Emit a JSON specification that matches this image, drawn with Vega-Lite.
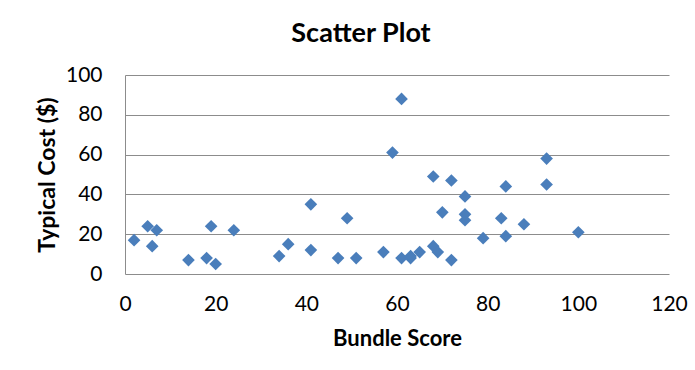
{
  "$schema": "https://vega.github.io/schema/vega-lite/v6.json",
  "width": 544,
  "height": 199,
  "autosize": {"type": "none"},
  "padding": {"left": 125, "top": 75, "right": 26, "bottom": 96},
  "background": "white",
  "config": {"view": {"stroke": null}, "font": "Lato"},
  "title": {
    "text": "Scatter Plot",
    "font": "Lato",
    "fontSize": 27,
    "fontWeight": "bold",
    "color": "#000000",
    "anchor": "middle",
    "dx": -36,
    "offset": 16
  },
  "data": {
    "values": [
      {"score": 2, "cost": 17}, {"score": 5, "cost": 24}, {"score": 6, "cost": 14}, {"score": 7, "cost": 22},
      {"score": 14, "cost": 7}, {"score": 18, "cost": 8}, {"score": 19, "cost": 24}, {"score": 20, "cost": 5},
      {"score": 24, "cost": 22}, {"score": 34, "cost": 9}, {"score": 36, "cost": 15}, {"score": 41, "cost": 35},
      {"score": 41, "cost": 12}, {"score": 47, "cost": 8}, {"score": 49, "cost": 28}, {"score": 51, "cost": 8},
      {"score": 57, "cost": 11}, {"score": 59, "cost": 61}, {"score": 61, "cost": 88}, {"score": 61, "cost": 8},
      {"score": 63, "cost": 8}, {"score": 63, "cost": 9}, {"score": 65, "cost": 11}, {"score": 68, "cost": 49},
      {"score": 68, "cost": 14}, {"score": 69, "cost": 11}, {"score": 70, "cost": 31}, {"score": 72, "cost": 47},
      {"score": 72, "cost": 7}, {"score": 75, "cost": 39}, {"score": 75, "cost": 30}, {"score": 75, "cost": 27},
      {"score": 79, "cost": 18}, {"score": 83, "cost": 28}, {"score": 84, "cost": 44}, {"score": 84, "cost": 19},
      {"score": 88, "cost": 25}, {"score": 93, "cost": 58}, {"score": 93, "cost": 45}, {"score": 100, "cost": 21}
    ]
  },
  "mark": {"type": "point", "shape": "diamond", "filled": true, "size": 160, "color": "#4a7ebb", "opacity": 1},
  "encoding": {
    "x": {
      "field": "score",
      "type": "quantitative",
      "scale": {"domain": [0, 120], "nice": false, "zero": true},
      "axis": {
        "title": "Bundle Score",
        "values": [0, 20, 40, 60, 80, 100, 120],
        "grid": false,
        "domain": false,
        "ticks": false,
        "labelFont": "Lato",
        "labelFontSize": 21,
        "labelColor": "#000000",
        "labelPadding": 30,
        "labelBaseline": "middle",
        "labelFlush": false,
        "titleFont": "Lato",
        "titleFontSize": 22,
        "titleFontWeight": "bold",
        "titleColor": "#000000",
        "titlePadding": 14
      }
    },
    "y": {
      "field": "cost",
      "type": "quantitative",
      "scale": {"domain": [0, 100], "nice": false},
      "axis": {
        "title": "Typical Cost ($)",
        "values": [0, 20, 40, 60, 80, 100],
        "grid": true,
        "gridColor": "#8c8c8c",
        "gridWidth": 1,
        "gridOpacity": 1,
        "domain": true,
        "domainColor": "#8c8c8c",
        "domainWidth": 1,
        "ticks": false,
        "labelFont": "Lato",
        "labelFontSize": 21,
        "labelColor": "#000000",
        "labelPadding": 23,
        "labelFlush": false,
        "titleFont": "Lato",
        "titleFontSize": 23,
        "titleFontWeight": "bold",
        "titleColor": "#000000",
        "titlePadding": 6
      }
    }
  }
}
